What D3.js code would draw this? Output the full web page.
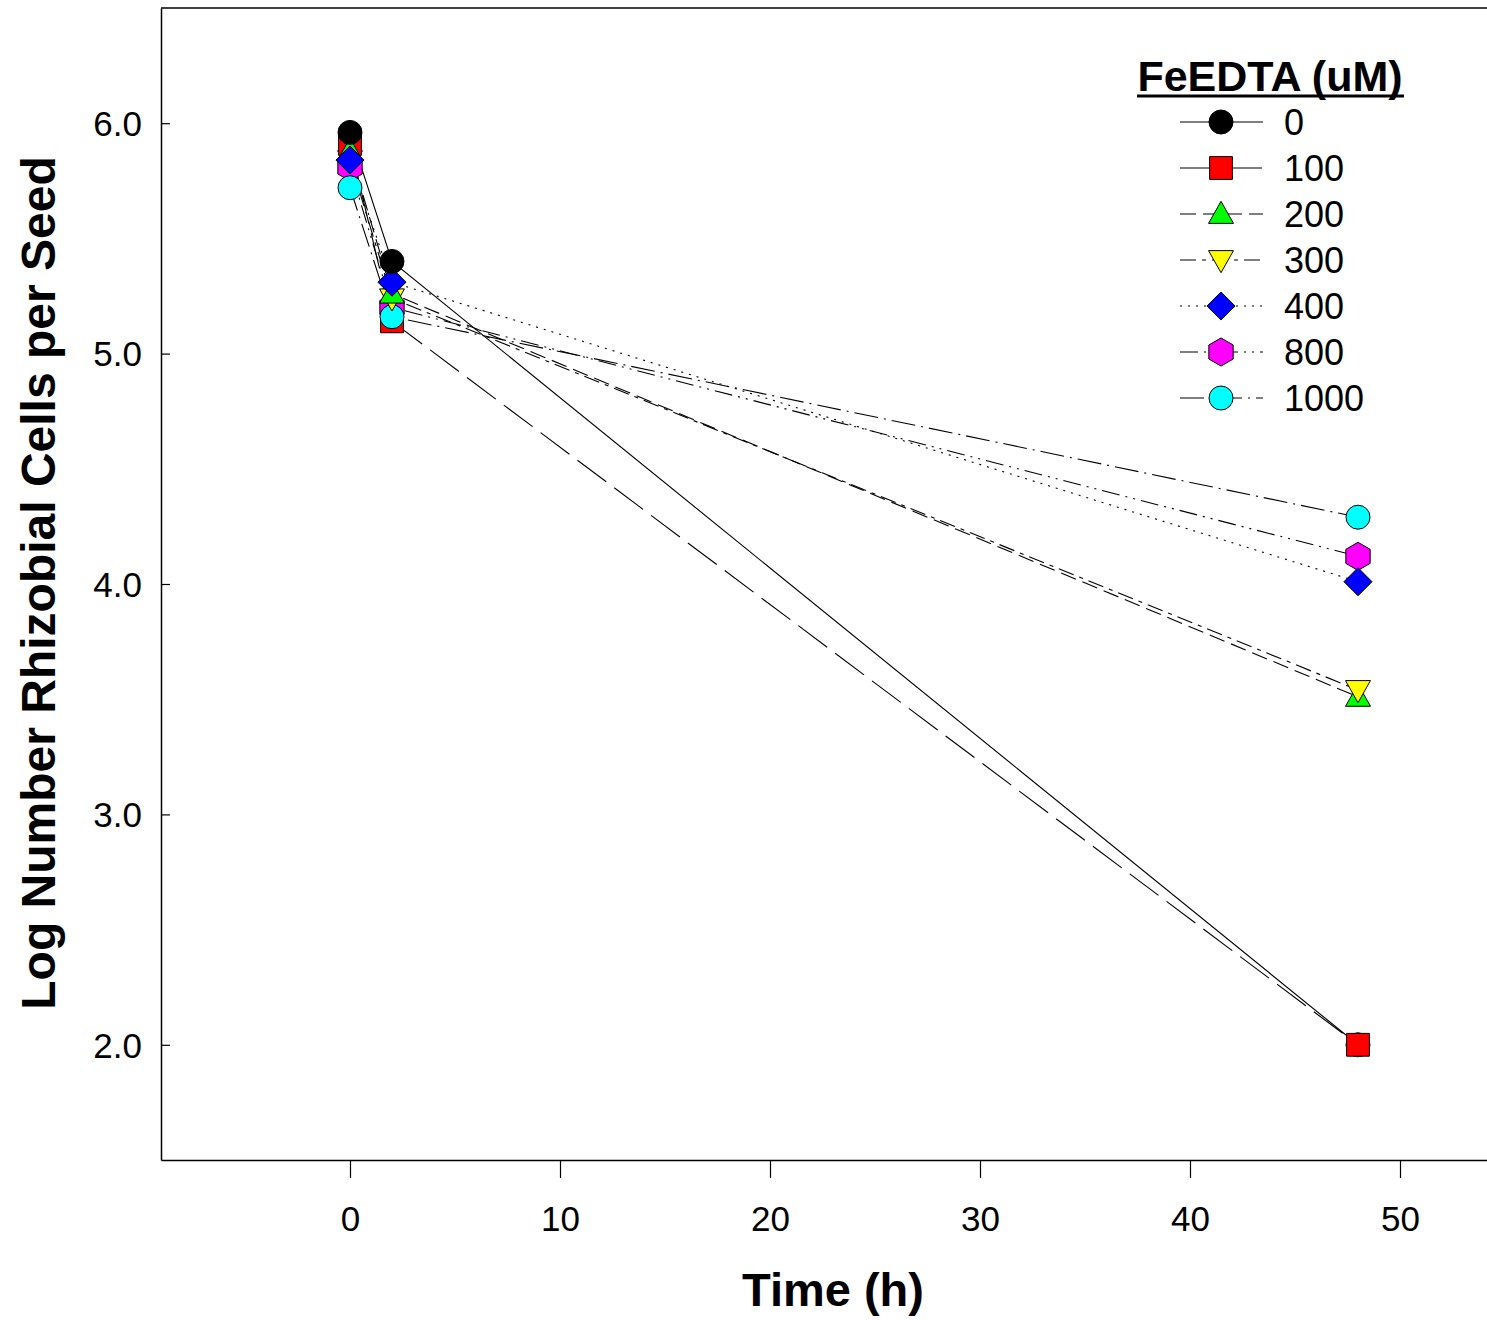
<!DOCTYPE html>
<html><head><meta charset="utf-8">
<script src="https://cdn.jsdelivr.net/npm/d3@7"></script>
<style>body{margin:0;background:#fff}svg{display:block;font-family:"Liberation Sans",Arial,sans-serif}</style>
</head><body>
<svg id="c" width="1487" height="1320"></svg>
<script>
const times = [0, 2, 48];
const seriesNames = ["0", "100", "200", "300", "400", "800", "1000"];
const v0 = [5.96, 5.40, 2.00];
const v100 = [5.91, 5.14, 2.00];
const v200 = [5.88, 5.26, 3.51];
const v300 = [5.84, 5.24, 3.54];
const v400 = [5.84, 5.31, 4.01];
const v800 = [5.81, 5.20, 4.12];
const v1000 = [5.72, 5.16, 4.29];
const xTicks = [0, 10, 20, 30, 40, 50];
const yTicks = [2.0, 3.0, 4.0, 5.0, 6.0];
const colors = ["#000000", "#ff0000", "#00ff00", "#ffff00", "#0000ff", "#ff00ff", "#00ffff"];
const symbols = ["circle", "square", "triangle", "triangleDown", "diamond", "hexagon", "circle"];
const dashes = [null, "36,10", "16,7", "16,6,4,6", "2,6", "18,6,2,6,2,6", "24,6,2,6"];
const values = [v0, v100, v200, v300, v400, v800, v1000];

const svg = d3.select("#c");
const L = 161, R = 1487, T = 8, B = 1160;
const x = d3.scaleLinear().domain([-9, 54.143]).range([L, R]);
const y = d3.scaleLinear().domain([1.5, 6.5]).range([B, T]);

svg.append("line").attr("x1", L).attr("x2", R).attr("y1", T).attr("y2", T).attr("stroke", "#000").attr("stroke-width", 1.5);

const xAxis = svg.append("g").attr("transform", `translate(0,${B})`)
  .call(d3.axisBottom(x).tickValues(xTicks).tickSizeInner(18).tickSizeOuter(0).tickPadding(41).tickFormat(d3.format("d")));
const yAxis = svg.append("g").attr("transform", `translate(${L},0)`)
  .call(d3.axisLeft(y).tickValues(yTicks).tickSizeInner(-9).tickSizeOuter(0).tickPadding(19).tickFormat(d3.format(".1f")));
[xAxis, yAxis].forEach(g => {
  g.select(".domain").attr("stroke-width", 1.5);
  g.selectAll(".tick line").attr("stroke-width", 1.2);
  g.selectAll("text").attr("font-size", 35).attr("font-family", "Liberation Sans, Arial, sans-serif").attr("fill", "#000").attr("dy", "0.35em");
});

function symPath(kind, s) {
  if (kind === "circle") return d3.symbol(d3.symbolCircle, Math.PI * s * s)();
  if (kind === "square") { const h = s * 0.95; return `M${-h},${-h}H${h}V${h}H${-h}Z`; }
  if (kind === "diamond") { const r = s * 1.17; return `M0,${-r}L${r},0L0,${r}L${-r},0Z`; }
  if (kind === "triangle") { const w = s * 1.04, h = s * 0.92; return `M0,${-h * 1.15}L${w},${h * 0.85}L${-w},${h * 0.85}Z`; }
  if (kind === "triangleDown") { const w = s * 1.04, h = s * 0.92; return `M0,${h * 1.15}L${w},${-h * 0.85}L${-w},${-h * 0.85}Z`; }
  if (kind === "hexagon") { const r = s * 1.17; let p = ""; for (let i = 0; i < 6; i++) { const a = Math.PI / 3 * i - Math.PI / 2; p += (i ? "L" : "M") + (r * Math.cos(a)).toFixed(2) + "," + (r * Math.sin(a)).toFixed(2); } return p + "Z"; }
}

const line = d3.line().x((d, i) => x(times[i])).y(d => y(d));
values.forEach((vals, k) => {
  svg.append("path").attr("d", line(vals)).attr("fill", "none").attr("stroke", "#000")
    .attr("stroke-width", 1.1).attr("stroke-dasharray", dashes[k]);
});
const orders = [[3, 5, 1, 2, 4, 6, 0], [1, 5, 6, 3, 2, 4, 0], [6, 5, 4, 2, 3, 0, 1]];
times.forEach((t, i) => {
  orders[i].forEach(k => {
    svg.append("path").attr("d", symPath(symbols[k], 12))
      .attr("transform", `translate(${x(t)},${y(values[k][i])})`)
      .attr("fill", colors[k]).attr("stroke", "#000").attr("stroke-width", 1);
  });
});

// legend
svg.append("text").attr("x", 1270).attr("y", 91).attr("text-anchor", "middle")
  .attr("font-size", 43).attr("font-weight", "bold").text("FeEDTA (uM)");
svg.append("line").attr("x1", 1137).attr("x2", 1404).attr("y1", 96).attr("y2", 96).attr("stroke", "#000").attr("stroke-width", 3);
seriesNames.forEach((n, k) => {
  const ly = 122 + k * 46;
  svg.append("line").attr("x1", 1180).attr("x2", 1263).attr("y1", ly).attr("y2", ly)
    .attr("stroke", "#000").attr("stroke-width", 1.1).attr("stroke-dasharray", dashes[k]);
  svg.append("path").attr("d", symPath(symbols[k], 12)).attr("transform", `translate(1221,${ly})`)
    .attr("fill", colors[k]).attr("stroke", "#000").attr("stroke-width", 1);
  svg.append("text").attr("x", 1284).attr("y", ly).attr("dy", "0.36em").attr("font-size", 36).text(n);
});

// axis titles
svg.append("text").attr("x", 833).attr("y", 1306).attr("text-anchor", "middle")
  .attr("font-size", 47).attr("font-weight", "bold").text("Time (h)");
svg.append("text").attr("transform", "translate(55,583) rotate(-90)").attr("text-anchor", "middle")
  .attr("font-size", 48).attr("font-weight", "bold").text("Log Number Rhizobial Cells per Seed");
</script>
</body></html>
